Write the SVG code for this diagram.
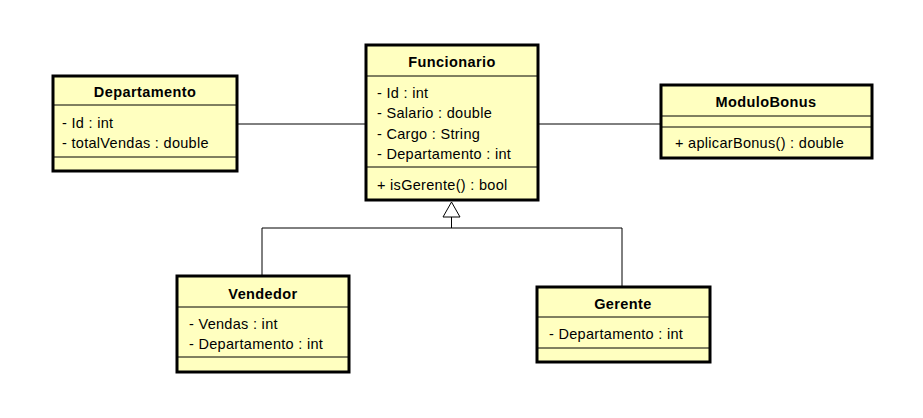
<svg xmlns="http://www.w3.org/2000/svg" width="923" height="418" viewBox="0 0 923 418">
<style>
.box{fill:#FFFFC0;stroke:#000;stroke-width:3}
.sep{stroke:#000;stroke-width:1;fill:none}
.t{font-family:"Liberation Sans",Arial,sans-serif;font-size:14.5px;font-weight:bold;text-anchor:middle;fill:#000;letter-spacing:0.4px}
.a{font-family:"Liberation Sans",Arial,sans-serif;font-size:14.5px;fill:#000;letter-spacing:0.3px}
.c{stroke:#000;stroke-width:1;fill:none}
</style>
<rect width="923" height="418" fill="#fff"/>
<g id="connectors">
<line class="c" x1="237" y1="124" x2="365" y2="124"/>
<line class="c" x1="538" y1="124" x2="661" y2="124"/>
<polyline class="c" points="262,276 262,228 622,228 622,287"/>
<line class="c" x1="451.5" y1="217" x2="451.5" y2="228"/>
<polygon points="451.5,202 443,217 460,217" fill="#fff" stroke="#000" stroke-width="1"/>
</g>
<g id="Departamento">
<rect class="box" x="53" y="76" width="184" height="95"/>
<line class="sep" x1="53" y1="105" x2="237" y2="105"/>
<line class="sep" x1="53" y1="157" x2="237" y2="157"/>
<text class="t" x="145" y="97">Departamento</text>
<text class="a" x="62" y="128">- Id : int</text>
<text class="a" x="62" y="148">- totalVendas : double</text>
</g>
<g id="Funcionario">
<rect class="box" x="366" y="45" width="172" height="155"/>
<line class="sep" x1="366" y1="76" x2="538" y2="76"/>
<line class="sep" x1="366" y1="167" x2="538" y2="167"/>
<text class="t" x="452" y="67">Funcionario</text>
<text class="a" x="377" y="98">- Id : int</text>
<text class="a" x="377" y="118">- Salario : double</text>
<text class="a" x="377" y="139">- Cargo : String</text>
<text class="a" x="377" y="159">- Departamento : int</text>
<text class="a" x="377" y="190">+ isGerente() : bool</text>
</g>
<g id="ModuloBonus">
<rect class="box" x="661" y="85" width="211" height="73"/>
<line class="sep" x1="661" y1="116" x2="872" y2="116"/>
<line class="sep" x1="661" y1="127" x2="872" y2="127"/>
<text class="t" x="766" y="107">ModuloBonus</text>
<text class="a" x="675" y="148">+ aplicarBonus() : double</text>
</g>
<g id="Vendedor">
<rect class="box" x="177" y="276" width="172" height="96"/>
<line class="sep" x1="177" y1="307" x2="349" y2="307"/>
<line class="sep" x1="177" y1="357" x2="349" y2="357"/>
<text class="t" x="263" y="299">Vendedor</text>
<text class="a" x="189" y="329">- Vendas : int</text>
<text class="a" x="189" y="349">- Departamento : int</text>
</g>
<g id="Gerente">
<rect class="box" x="537" y="287" width="173" height="75"/>
<line class="sep" x1="537" y1="317" x2="710" y2="317"/>
<line class="sep" x1="537" y1="348" x2="710" y2="348"/>
<text class="t" x="623" y="309">Gerente</text>
<text class="a" x="549" y="339">- Departamento : int</text>
</g>
</svg>
